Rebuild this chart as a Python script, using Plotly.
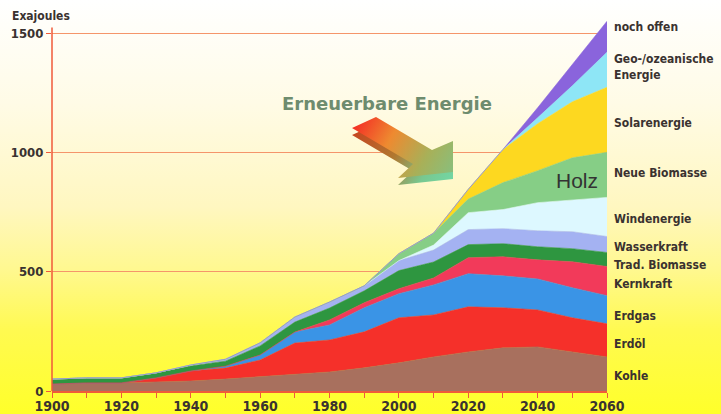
import base64
import plotly.graph_objects as go

# ---------------- data (Exajoules) ----------------
years = [1900, 1910, 1920, 1930, 1940, 1950, 1960, 1970, 1980, 1990,
         2000, 2010, 2020, 2030, 2040, 2050, 2060]

kohle     = [29, 34, 34, 38, 42, 50, 59, 71, 80, 97, 118, 143, 164, 181, 185, 164, 143]
erdoel    = [0, 0, 0, 17, 42, 46, 71, 130, 134, 151, 189, 176, 189, 168, 155, 143, 139]
erdgas    = [0, 0, 0, 0, 0, 8, 21, 46, 63, 101, 101, 126, 139, 134, 130, 126, 118]
kernkraft = [0, 0, 0, 0, 0, 0, 0, 0, 21, 21, 21, 29, 67, 80, 80, 109, 122]
trad_bio  = [21, 21, 21, 21, 21, 21, 38, 42, 50, 50, 76, 67, 55, 55, 55, 55, 59]
wasser    = [0, 0, 0, 0, 4, 8, 13, 21, 25, 21, 42, 50, 63, 63, 67, 71, 67]
wind      = [0, 0, 0, 0, 0, 0, 0, 0, 0, 0, 0, 21, 71, 80, 118, 134, 164]
neue_bio  = [0, 0, 0, 0, 0, 0, 0, 0, 0, 0, 29, 50, 57, 113, 134, 176, 189]
solar     = [0, 0, 0, 0, 0, 0, 0, 0, 0, 0, 0, 0, 41, 139, 197, 235, 273]
geo       = [0, 0, 0, 0, 0, 0, 0, 0, 0, 0, 0, 0, 0, 0, 25, 67, 147]
offen     = [0, 0, 0, 0, 0, 0, 0, 0, 0, 0, 0, 0, 0, 0, 42, 88, 130]

series_names = ["Kohle", "Erdöl", "Erdgas", "Kernkraft", "Trad. Biomasse",
                "Wasserkraft", "Windenergie", "Neue Biomasse", "Solarenergie",
                "Geo-/ozeanische Energie", "noch offen"]
series_values = [kohle, erdoel, erdgas, kernkraft, trad_bio, wasser, wind,
                 neue_bio, solar, geo, offen]
series_colors = ["#A8705E", "#F5302A", "#3A94E6", "#F23A5A", "#2E9640",
                 "#A4B2F2", "#DDF8FF", "#86CE86", "#FDD820", "#8EE6F6", "#8A64DC"]

y_tickvals = [0, 500, 1000, 1500]
x_tickvals = [1900, 1920, 1940, 1960, 1980, 2000, 2020, 2040, 2060]

# right-hand labels (text, y position in data units)
right_labels = [
    ("noch offen", 1525),
    ("Geo-/ozeanische<br>Energie", 1357),
    ("Solarenergie", 1122),
    ("Neue Biomasse", 916),
    ("Windenergie", 723),
    ("Wasserkraft", 605),
    ("Trad. Biomasse", 529),
    ("Kernkraft", 450),
    ("Erdgas", 315),
    ("Erdöl", 197),
    ("Kohle", 63),
]

# ---------------- layout geometry ----------------
W, H = 721, 414
L, R, T, B = 52, 114, 10, 23
PW, PH = W - L - R, H - T - B

FONT = "DejaVu Sans Condensed, Liberation Sans Narrow, Roboto, Liberation Sans, sans-serif"
TXT = "#3A3230"
RED = "#F05A3A"

fig = go.Figure()
for name, vals, col in zip(series_names, series_values, series_colors):
    fig.add_trace(go.Scatter(
        x=years, y=vals, name=name, stackgroup="one", mode="lines",
        line=dict(width=0.6, color=col), fillcolor=col, hoverinfo="skip"))

# background gradient (figure-wide)
bg_svg = f'''<svg xmlns="http://www.w3.org/2000/svg" width="{W}" height="{H}" viewBox="0 0 {W} {H}" preserveAspectRatio="none">
<defs><linearGradient id="g" x1="0" y1="0" x2="0" y2="1">
<stop offset="0" stop-color="#FFFFFF"/>
<stop offset="0.25" stop-color="#FFFBE6"/>
<stop offset="0.5" stop-color="#FFF7C0"/>
<stop offset="0.65" stop-color="#FFF890"/>
<stop offset="0.8" stop-color="#FFFA50"/>
<stop offset="1" stop-color="#FFFF2A"/>
</linearGradient></defs>
<rect width="{W}" height="{H}" fill="url(#g)"/></svg>'''

arrow_pts = [(352, 128), (376, 117), (432, 150), (453, 141), (453, 172), (398, 178), (413, 164)]
def pts(dx=0, dy=0):
    return " ".join(f"{x+dx},{y+dy}" for x, y in arrow_pts)

arrow_svg = f'''<svg xmlns="http://www.w3.org/2000/svg" width="{W}" height="{H}" viewBox="0 0 {W} {H}" preserveAspectRatio="none">
<defs>
<linearGradient id="a" gradientUnits="userSpaceOnUse" x1="355" y1="120" x2="453" y2="178">
<stop offset="0" stop-color="#F42A24"/>
<stop offset="0.35" stop-color="#EE8A30"/>
<stop offset="0.7" stop-color="#A8B058"/>
<stop offset="1" stop-color="#86C080"/>
</linearGradient>
<linearGradient id="s" gradientUnits="userSpaceOnUse" x1="355" y1="120" x2="453" y2="185">
<stop offset="0" stop-color="#C8401E"/>
<stop offset="0.45" stop-color="#B07830"/>
<stop offset="0.75" stop-color="#78C890"/>
<stop offset="1" stop-color="#72D8A6"/>
</linearGradient>
</defs>
<polygon points="{pts(0, 7)}" fill="url(#s)"/>
<polygon points="{pts()}" fill="url(#a)"/>
</svg>'''

def uri(s):
    return "data:image/svg+xml;base64," + base64.b64encode(s.encode()).decode()

img_common = dict(xref="paper", yref="paper", x=-L / PW, y=1 + T / PH,
                  sizex=W / PW, sizey=H / PH, xanchor="left", yanchor="top",
                  sizing="stretch")
fig.add_layout_image(source=uri(bg_svg), layer="below", **img_common)
fig.add_layout_image(source=uri(arrow_svg), layer="above", **img_common)

# y-axis line as shape (stops just above 1500)
fig.add_shape(type="line", xref="paper", yref="y", x0=0, x1=0, y0=0, y1=1525,
              line=dict(color=RED, width=1.5))

annotations = []
for text, yv in right_labels:
    annotations.append(dict(
        xref="paper", yref="y", x=(612 - L) / PW, y=yv, xanchor="left",
        yanchor="middle", align="left", showarrow=False, text=f"<b>{text}</b>",
        font=dict(family=FONT, size=12, color=TXT)))
annotations.append(dict(
    xref="paper", yref="paper", x=(10 - L) / PW, y=1 - (16 - T) / PH,
    xanchor="left", yanchor="middle", showarrow=False, text="<b>Exajoules</b>",
    font=dict(family=FONT, size=12, color=TXT)))
annotations.append(dict(
    xref="paper", yref="paper", x=(387 - L) / PW, y=1 - (103 - T) / PH,
    xanchor="center", yanchor="middle", showarrow=False,
    text="<b>Erneuerbare Energie</b>",
    font=dict(family="DejaVu Sans, Verdana, sans-serif", size=18, color="#6E8C6E")))
annotations.append(dict(
    xref="paper", yref="paper", x=(577 - L) / PW, y=1 - (180 - T) / PH,
    xanchor="center", yanchor="middle", showarrow=False, text="Holz",
    font=dict(family="Liberation Sans, Arial, sans-serif", size=21, color="#333333")))

fig.update_layout(
    width=W, height=H, autosize=False,
    margin=dict(l=L, r=R, t=T, b=B, pad=0),
    paper_bgcolor="#FFFF2A", plot_bgcolor="rgba(0,0,0,0)",
    showlegend=False,
    annotations=annotations,
    xaxis=dict(range=[1900, 2060], tickvals=x_tickvals, automargin=False,
               ticktext=[f"<b>{v}</b>" for v in x_tickvals],
               showgrid=False, zeroline=False, showline=True, linecolor=RED,
               linewidth=1.5, ticks="outside", ticklen=5, tickcolor=RED,
               ticklabelstandoff=-4,
               minor=dict(dtick=10, tick0=1900, ticks="outside", ticklen=5, tickcolor=RED),
               tickfont=dict(family=FONT, size=14, color=TXT)),
    yaxis=dict(range=[0, 1598], tickvals=y_tickvals, automargin=False,
               ticktext=[f"<b>{v}</b>" for v in y_tickvals],
               showgrid=True, gridcolor="#F5956A", gridwidth=1, zeroline=False,
               showline=False, ticks="outside", ticklen=5, tickcolor=RED,
               tickfont=dict(family=FONT, size=13, color=TXT)),
)

fig.write_html("out.html", config={"displayModeBar": False},
               post_script="document.body.style.margin='0';document.body.style.overflow='hidden';")
